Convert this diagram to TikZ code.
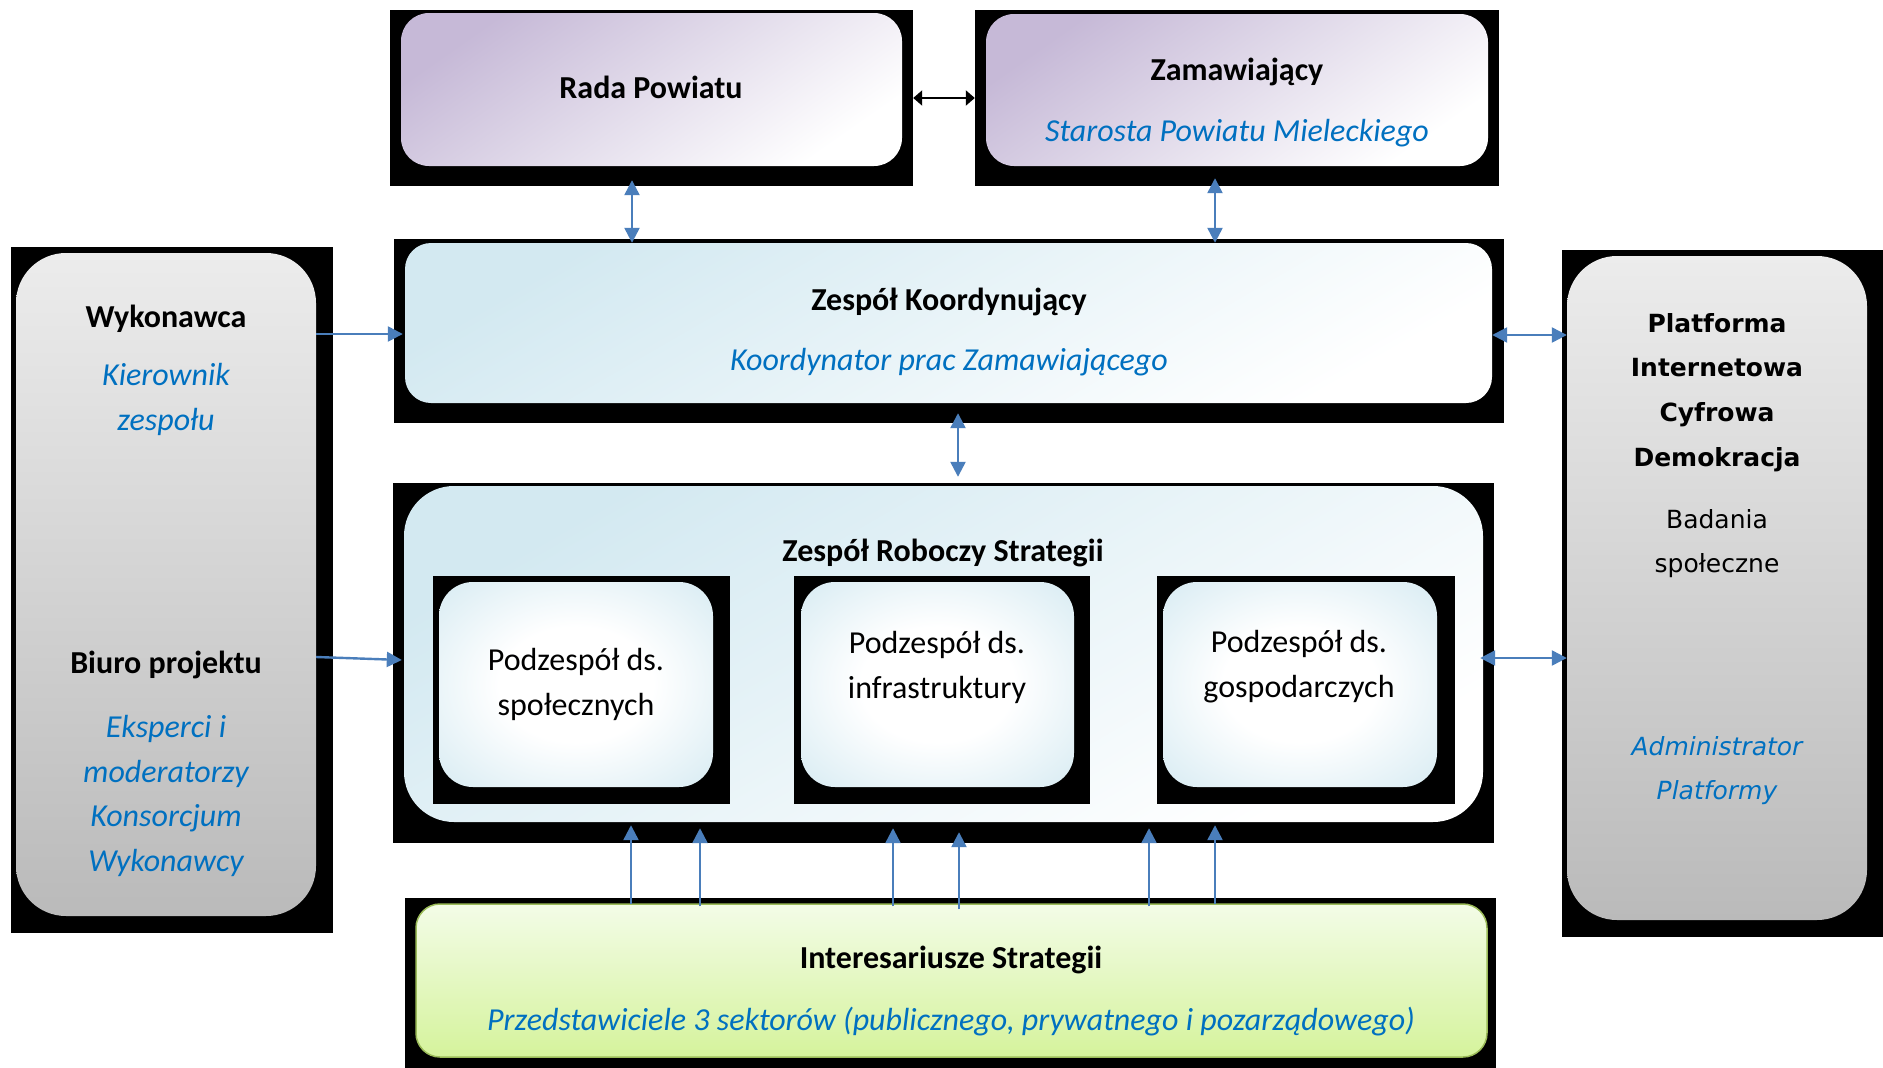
\documentclass[tikz,border=0pt]{standalone}
\usepackage{fontspec}
\setmainfont{Carlito}
\newfontfamily\verdanafam{DejaVu Sans}
\usetikzlibrary{arrows.meta,fit,calc}
\definecolor{txtblue}{HTML}{0070C0}
\definecolor{arrblue}{HTML}{4A7EBB}
\definecolor{lav}{HTML}{C6B9D7}
\definecolor{lblue}{HTML}{D3E9F1}
\definecolor{gtop}{HTML}{ECECEC}
\definecolor{gbot}{HTML}{BABABA}
\definecolor{grtop}{HTML}{F3FCE7}
\definecolor{grbot}{HTML}{D5F39C}
\definecolor{grline}{HTML}{9BBB59}
\pgfdeclareradialshading{subshade}{\pgfpoint{0bp}{0bp}}{color(0bp)=(white); color(14bp)=(white); color(38bp)=(lblue); color(50bp)=(lblue)}
\begin{document}
\begin{tikzpicture}[x=1pt,y=-1pt,
  bgbox/.style={fill=black, inner sep=0pt, draw=none},
  lavbox/.style={inner sep=0pt, rounded corners=28pt, top color=lav, bottom color=white, shading angle=35},
  bluebox/.style={inner sep=0pt, rounded corners=#1, top color=lblue, bottom color=white, shading angle=30},
  subbox/.style={inner sep=0pt, rounded corners=34pt, shading=subshade},
  greybox/.style={inner sep=0pt, rounded corners=50pt, top color=gtop, bottom color=gbot},
  greenbox/.style={inner sep=0pt, rounded corners=24pt, top color=grtop, bottom color=grbot, draw=grline, line width=1.5pt},
  ttl/.style={font=\fontsize{32}{44}\selectfont\bfseries, anchor=base, align=center, inner sep=0pt},
  sub/.style={font=\fontsize{32}{44.5}\selectfont\itshape, text=txtblue, anchor=base, align=center, inner sep=0pt},
  pln/.style={font=\fontsize{32}{45}\selectfont, anchor=base, align=center, inner sep=0pt},
  vttl/.style={font=\verdanafam\fontsize{25}{44.6}\selectfont\bfseries, anchor=base, align=center, inner sep=0pt},
  vpln/.style={font=\verdanafam\fontsize{25}{44}\selectfont, anchor=base, align=center, inner sep=0pt},
  vsub/.style={font=\verdanafam\fontsize{25}{44}\selectfont\itshape, text=txtblue, anchor=base, align=center, inner sep=0pt},
  barrow/.style={draw=arrblue, line width=2.4pt, {Triangle[length=15pt,width=15pt]}-{Triangle[length=15pt,width=15pt]}, color=arrblue},
  sarrow/.style={draw=arrblue, line width=2.4pt, -{Triangle[length=15pt,width=15pt]}, color=arrblue},
  karrow/.style={draw=black, line width=2pt, {Triangle[length=9pt,width=15pt]}-{Triangle[length=9pt,width=15pt]}}
]
\useasboundingbox (0,0) rectangle (1883,1068);
\fill[white] (0,0) rectangle (1883,1068);

% Top boxes
\node[bgbox, fit={(390,10) (913,186)}] (radaBg) {};
\node[lavbox, fit={(401,13) (902,166)}] (rada) {};
\node[bgbox, fit={(975,10) (1499,186)}] (zamBg) {};
\node[lavbox, fit={(986,14) (1488,166)}] (zam) {};

% Koordynujacy
\node[bgbox, fit={(394,239) (1504,423)}] (koordBg) {};
\node[bluebox=26pt, fit={(405,243) (1492,403)}] (koord) {};

% Roboczy
\node[bgbox, fit={(393,483) (1494,843)}] (robBg) {};
\node[bluebox=50pt, fit={(404,486) (1483,822)}] (rob) {};

% Sub boxes
\node[bgbox, fit={(433,576) (730,804)}] (s1Bg) {};
\node[subbox, fit={(439,582) (713,787)}] (s1) {};
\node[bgbox, fit={(794,576) (1090,804)}] (s2Bg) {};
\node[subbox, fit={(801,582) (1074,787)}] (s2) {};
\node[bgbox, fit={(1157,576) (1455,804)}] (s3Bg) {};
\node[subbox, fit={(1163,582) (1437,787)}] (s3) {};

% Side boxes
\node[bgbox, fit={(11,247) (333,933)}] (wykBg) {};
\node[greybox, fit={(16,253) (316,916)}] (wyk) {};
\node[bgbox, fit={(1562,250) (1883,937)}] (platBg) {};
\node[greybox, fit={(1567,256) (1867,920)}] (plat) {};

% Interesariusze
\node[bgbox, fit={(405,898) (1496,1068)}] (intBg) {};
\node[greenbox, fit={(416,904) (1487,1057)}] (inter) {};

% Texts (base anchor = baseline of the last line)
\node[ttl] (tRada) at (651,98) {Rada Powiatu};
\node[ttl] (tZam) at (1237,80) {Zamawiający};
\node[sub] (tZam2) at (1237,141) {Starosta Powiatu Mieleckiego};
\node[ttl] (tKoord) at (949,310) {Zespół Koordynujący};
\node[sub] (tKoord2) at (949,370) {Koordynator prac Zamawiającego};
\node[ttl] (tRob) at (943,561) {Zespół Roboczy Strategii};
\node[pln] (tS1) at (576,715) {Podzespół ds.\\społecznych};
\node[pln] (tS2) at (937,698) {Podzespół ds.\\infrastruktury};
\node[pln] (tS3) at (1299,697) {Podzespół ds.\\gospodarczych};
\node[ttl] (tInt) at (951,968) {Interesariusze Strategii};
\node[sub] (tInt2) at (951,1030) {Przedstawiciele 3 sektorów (publicznego, prywatnego i pozarządowego)};
\node[ttl] (tWyk) at (166,327) {Wykonawca};
\node[sub] (tWyk2) at (166,430) {Kierownik\\zespołu};
\node[ttl] (tBiuro) at (166,673) {Biuro projektu};
\node[sub] (tBiuro2) at (166,871) {Eksperci i\\moderatorzy\\Konsorcjum\\Wykonawcy};
\node[vttl] (tPlat) at (1717,466) {Platforma\\Internetowa\\Cyfrowa\\Demokracja};
\node[vpln] (tPlat2) at (1717,572) {Badania\\społeczne};
\node[vsub] (tPlat3) at (1717,799) {Administrator\\Platformy};

% Connectors
\draw[karrow] (radaBg.east) -- (zamBg.west);
\draw[barrow] ($(radaBg.south -| 632,0)+(0,-6)$) -- (koord.north -| 632,0);
\draw[barrow] ($(zamBg.south -| 1215,0)+(0,-8)$) -- (koord.north -| 1215,0);
\draw[sarrow] (wyk.east |- 0,334) -- ($(koord.west |- 0,334)+(-2,0)$);
\draw[barrow] (koord.east |- 0,335) -- (plat.west |- 0,335);
\draw[barrow] ($(koordBg.south -| 958,0)+(0,-10)$) -- ($(robBg.north -| 958,0)+(0,-6)$);
\draw[sarrow] (wyk.east |- 0,657) -- ($(rob.west |- 0,660)+(-2,0)$);
\draw[barrow] ($(rob.east |- 0,658)+(-3,0)$) -- (plat.west |- 0,658);
\draw[sarrow] ($(inter.north -| 631,0)+(0,1)$) -- ($(rob.south -| 631,0)+(0,3)$);
\draw[sarrow] ($(inter.north -| 700,0)+(0,3)$) -- ($(rob.south -| 700,0)+(0,6)$);
\draw[sarrow] ($(inter.north -| 893,0)+(0,3)$) -- ($(rob.south -| 893,0)+(0,6)$);
\draw[sarrow] ($(inter.north -| 959,0)+(0,6)$) -- ($(rob.south -| 959,0)+(0,10)$);
\draw[sarrow] ($(inter.north -| 1149,0)+(0,3)$) -- ($(rob.south -| 1149,0)+(0,6)$);
\draw[sarrow] ($(inter.north -| 1215,0)+(0,1)$) -- ($(rob.south -| 1215,0)+(0,3)$);
\end{tikzpicture}
\end{document}
